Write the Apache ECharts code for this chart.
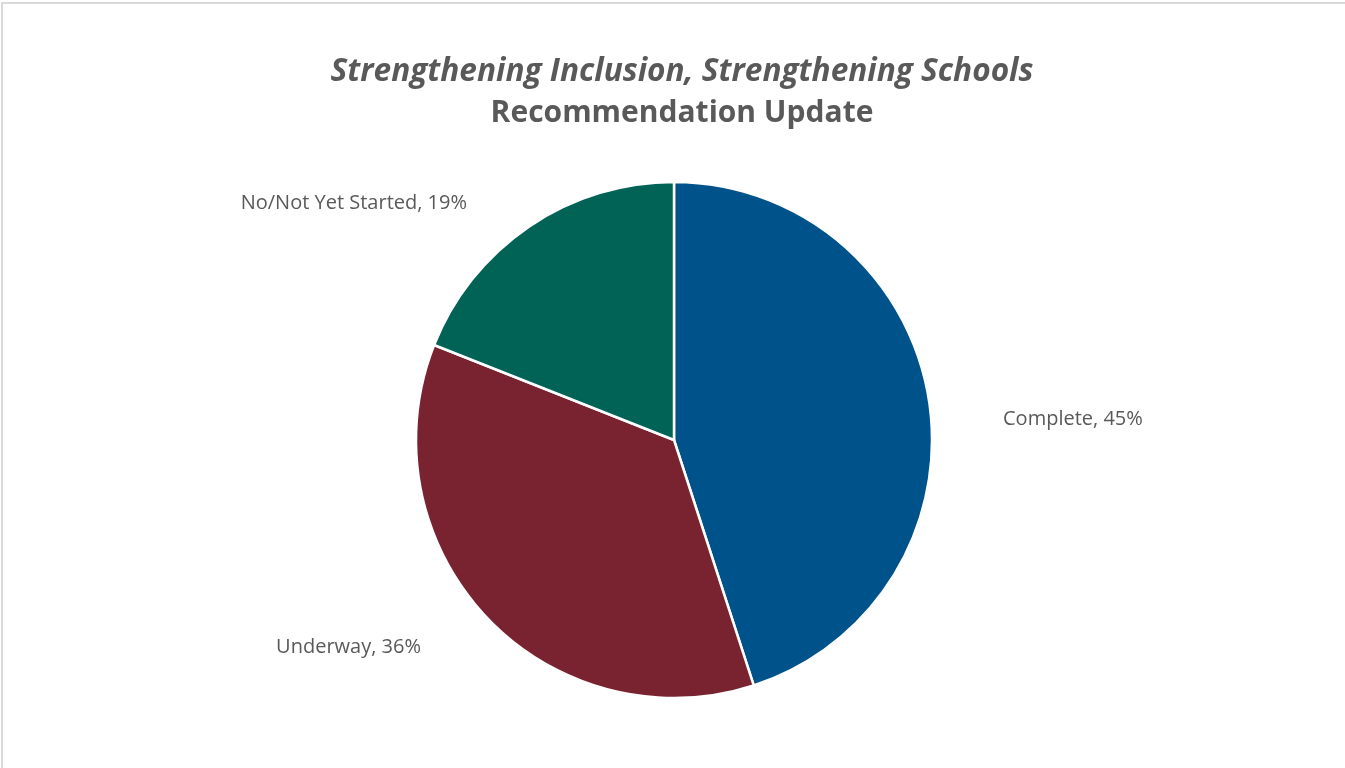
<!DOCTYPE html>
<html>
<head>
<meta charset="utf-8">
<script src="https://cdn.jsdelivr.net/npm/echarts@6/dist/echarts.min.js"></script>
<style>
html,body{margin:0;padding:0;background:#fff;overflow:hidden;}
#frame{position:absolute;left:1px;top:2px;width:1400px;height:800px;border-left:2px solid #d9d9d9;border-top:2px solid #d9d9d9;box-sizing:border-box;pointer-events:none;}
#chart{position:absolute;left:0;top:0;width:1345px;height:768px;}
</style>
</head>
<body>
<div id="chart"></div>
<div id="frame"></div>
<script>
const titleLine1 = 'Strengthening Inclusion, Strengthening Schools';
const titleLine2 = 'Recommendation Update';
const categories = ['Complete', 'Underway', 'No/Not Yet Started'];
const values = [45, 36, 19];
const colors = ['#00538A', '#7A2330', '#006356'];

const labelPos = [
  {x: 1003, y: 419, align: 'left'},
  {x: 421, y: 647, align: 'right'},
  {x: 467, y: 203, align: 'right'}
];

const chart = echarts.init(document.getElementById('chart'), null, {renderer: 'canvas'});
chart.setOption({
  backgroundColor: '#ffffff',
  animation: false,
  title: [
    {text: titleLine1, left: 677, top: 51, textAlign: 'center',
     textStyle: {fontFamily: 'Open Sans', fontSize: 31.6, fontWeight: 'bold', fontStyle: 'italic', color: '#595959'}},
    {text: titleLine2, left: 677, top: 93, textAlign: 'center',
     textStyle: {fontFamily: 'Open Sans', fontSize: 30, fontWeight: 'bold', color: '#595959'}}
  ],
  series: [{
    type: 'pie',
    center: [674, 440],
    radius: 258,
    startAngle: 90,
    clockwise: true,
    data: categories.map((c, i) => ({name: c, value: values[i], itemStyle: {color: colors[i]}})),
    itemStyle: {borderColor: '#ffffff', borderWidth: 2.5},
    label: {
      show: true,
      position: 'outside',
      formatter: p => p.name + ', ' + p.value + '%',
      fontFamily: 'Open Sans',
      fontSize: 20,
      color: '#595959'
    },
    labelLine: {show: false},
    labelLayout: function (params) {
      const p = labelPos[params.dataIndex];
      return {x: p.x, y: p.y, align: p.align, verticalAlign: 'middle'};
    },
    emphasis: {disabled: true}
  }]
});
</script>
</body>
</html>
